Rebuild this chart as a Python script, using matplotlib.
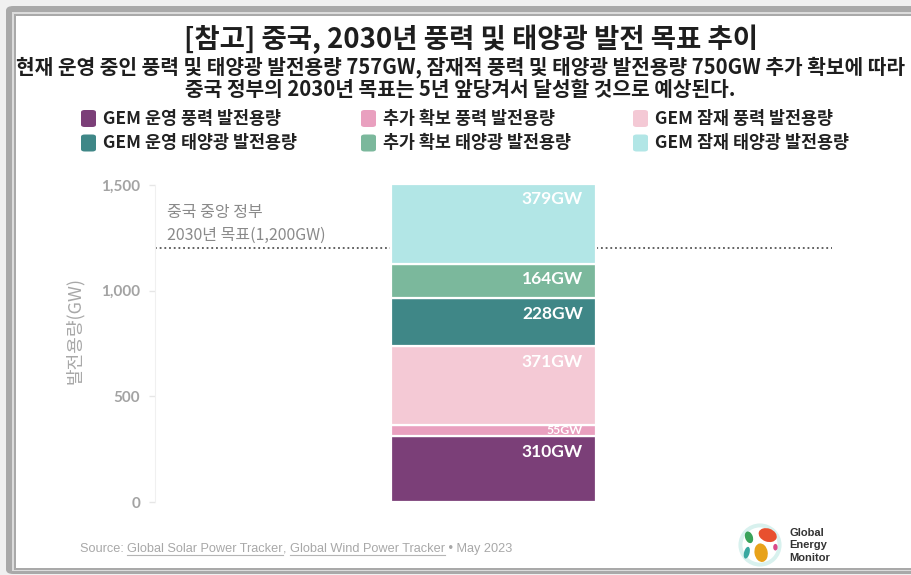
import matplotlib
matplotlib.use("Agg")
import matplotlib.pyplot as plt
from matplotlib.patches import Rectangle, FancyBboxPatch, Circle, Ellipse
import numpy as np

# ---------------- data ----------------
categories = ["GEM 운영 풍력 발전용량", "추가 확보 풍력 발전용량", "GEM 잠재 풍력 발전용량",
              "GEM 운영 태양광 발전용량", "추가 확보 태양광 발전용량", "GEM 잠재 태양광 발전용량"]
values = [310, 55, 371, 228, 164, 379]
colors = ["#7b3f78", "#e9a0bf", "#f4c9d5", "#3f8787", "#7bb89c", "#b2e6e6"]
value_labels = ["310GW", "55GW", "371GW", "228GW", "164GW", "379GW"]
yticks = [0, 500, 1000, 1500]
ytick_labels = ["0", "500", "1,000", "1,500"]
target = 1200

KR = ["Noto Sans CJK KR", "DejaVu Sans"]
W, H = 911, 575
fig = plt.figure(figsize=(W / 100, H / 100), dpi=100)
fig.patch.set_facecolor("#f0f0f0")

def fx(px):
    return px / W

def fy(py):
    return 1 - py / H

# frame
fig.patches.append(FancyBboxPatch((fx(6), fy(574)), fx(960), 568 / H,
                                  boxstyle="round,pad=0,rounding_size=0.008",
                                  transform=fig.transFigure, fc="#a9a9a9", ec="none", zorder=-10))
fig.patches.append(Rectangle((fx(12), fy(571)), fx(960), 559 / H, transform=fig.transFigure,
                             fc="#dcdcdc", ec="none", zorder=-9))
fig.patches.append(Rectangle((fx(14), fy(570)), fx(960), 556 / H, transform=fig.transFigure,
                             fc="#a9a9a9", ec="none", zorder=-8))
fig.patches.append(Rectangle((fx(16), fy(568)), fx(960), 552 / H, transform=fig.transFigure,
                             fc="white", ec="none", zorder=-7))

# titles
fig.text(fx(471), fy(39), "[참고] 중국, 2030년 풍력 및 태양광 발전 목표 추이", family=KR,
         fontsize=19.8, fontweight="bold", color="#1e1e1e", ha="center", va="center")
fig.text(fx(461), fy(67), "현재 운영 중인 풍력 및 태양광 발전용량 757GW, 잠재적 풍력 및 태양광 발전용량 750GW 추가 확보에 따라",
         family=KR, fontsize=14.6, fontweight="bold", color="#1e1e1e", ha="center", va="center")
fig.text(fx(460), fy(90), "중국 정부의 2030년 목표는 5년 앞당겨서 달성할 것으로 예상된다.",
         family=KR, fontsize=14.6, fontweight="bold", color="#1e1e1e", ha="center", va="center")

# legend (3 columns x 2 rows)
legend_order = [0, 3, 1, 4, 2, 5]
col_x = [81, 361, 633]
row_y = [118.5, 143]
for k, idx in enumerate(legend_order):
    c, r = k // 2, k % 2
    x0, yc = col_x[c], row_y[r]
    fig.patches.append(FancyBboxPatch((fx(x0), fy(yc + 8.5)), fx(15), 17 / H,
                                      boxstyle="round,pad=0,rounding_size=0.004",
                                      transform=fig.transFigure, fc=colors[idx], ec="none", zorder=2))
    fig.text(fx(x0 + 22), fy(yc), categories[idx], family=KR, fontsize=12.5, fontweight="bold",
             color="#222222", ha="left", va="center")

# axes
ymax = 1550
px_per = 317 / 1500
ax = fig.add_axes([fx(155), 73 / H, fx(677), ymax * px_per / H])
ax.set_facecolor("none")
ax.set_xlim(0, 1)
ax.set_ylim(0, ymax)

bottoms = np.concatenate([[0], np.cumsum(values)[:-1]])
bar_w = 0.303
ax.bar([0.5] * len(values), values, bottom=bottoms, width=bar_w, color=colors,
       edgecolor="white", linewidth=1.6, zorder=2)

for v, b, lab in zip(values, bottoms, value_labels):
    if v < 100:
        ax.annotate(lab, xy=(0.5 + bar_w / 2, b + v / 2), xytext=(-9.5, 0), textcoords="offset points",
                    ha="right", va="center", fontsize=8.8, family="Lato", fontweight="bold",
                    color="white", zorder=3)
    else:
        ax.annotate(lab, xy=(0.5 + bar_w / 2, b + v), xytext=(-9.5, -11), textcoords="offset points",
                    ha="right", va="center", fontsize=12.5, family="Lato", fontweight="bold",
                    color="white", zorder=3)

ax.axhline(target, color="#555555", linestyle=(0, (1, 1.6)), linewidth=1.3, zorder=1)
ax.text(0.018, 1262, "2030년 목표(1,200GW)", family=KR, fontsize=11.5, color="#8a8a8a",
        ha="left", va="center")
ax.text(0.018, 1368, "중국 중앙 정부", family=KR, fontsize=11.5, color="#8a8a8a",
        ha="left", va="center")

for s in ["top", "right", "bottom"]:
    ax.spines[s].set_visible(False)
ax.spines["left"].set_color("#f0f0f0")
ax.spines["left"].set_bounds(0, 1500)
ax.set_xticks([])
ax.set_yticks(yticks)
ax.set_yticklabels(ytick_labels, family="Lato", fontweight="bold", fontsize=11, color="#a3a3a3")
ax.tick_params(axis="y", length=4.5, width=1, color="#e6e6e6", pad=6)

fig.text(fx(75), fy(330), "발전용량(GW)", family=KR, fontsize=13, color="#a8a8a8",
         rotation=90, ha="center", va="center")

# source line with underlines
src_parts = [("Source: ", False), ("Global Solar Power Tracker", True), (", ", False),
             ("Global Wind Power Tracker", True), (" • May 2023", False)]
fig.canvas.draw()
renderer = fig.canvas.get_renderer()
xcur = fx(80)
ysrc = fy(552)
for txt, ul in src_parts:
    t = fig.text(xcur, ysrc, txt, family="Liberation Sans", fontsize=9.2, color="#a8a8a8",
                 ha="left", va="baseline")
    bb = t.get_window_extent(renderer).transformed(fig.transFigure.inverted())
    if ul:
        fig.add_artist(plt.Line2D([bb.x0, bb.x1], [ysrc - 2.5 / H, ysrc - 2.5 / H],
                                  transform=fig.transFigure, color="#b5b5b5", lw=0.8))
    xcur = bb.x1

# logo
lax = fig.add_axes([fx(738), fy(567), fx(44), 44 / H])
lax.set_xlim(-1, 1)
lax.set_ylim(-1, 1)
lax.set_aspect("equal")
lax.axis("off")
lax.add_patch(Circle((0, 0), 0.98, fc="#d8f1ee", ec="none"))
lax.add_patch(Circle((0, 0), 0.8, fc="white", ec="none"))
lax.add_patch(Ellipse((0.35, 0.45), 0.85, 0.6, angle=-20, fc="#e8502f", ec="none"))
lax.add_patch(Ellipse((-0.5, 0.35), 0.35, 0.55, angle=20, fc="#3aa35a", ec="none"))
lax.add_patch(Ellipse((0.05, -0.35), 0.6, 0.85, angle=10, fc="#e8a21a", ec="none"))
lax.add_patch(Ellipse((-0.6, -0.35), 0.25, 0.55, angle=-15, fc="#38a8a0", ec="none"))
lax.add_patch(Ellipse((0.7, -0.1), 0.2, 0.3, fc="#d94a8a", ec="none"))
fig.text(fx(789), fy(533), "Global", fontsize=8, fontweight="bold", color="#333333",
         family="Liberation Sans", ha="left", va="center")
fig.text(fx(789), fy(545.5), "Energy", fontsize=8, fontweight="bold", color="#333333",
         family="Liberation Sans", ha="left", va="center")
fig.text(fx(789), fy(558), "Monitor", fontsize=8, fontweight="bold", color="#333333",
         family="Liberation Sans", ha="left", va="center")

fig.savefig("out.png", dpi=100, facecolor=fig.get_facecolor())
